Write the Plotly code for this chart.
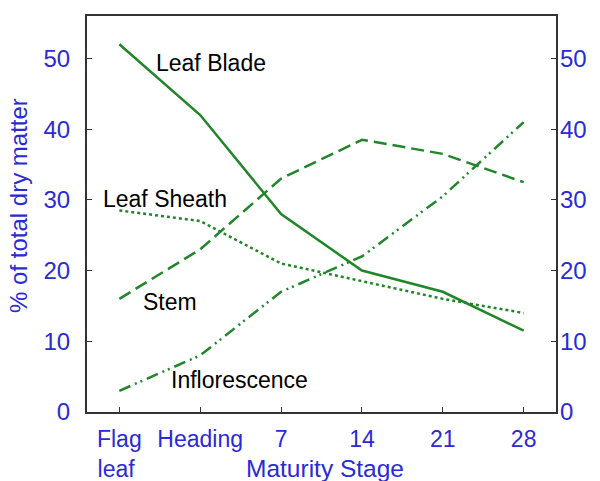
import plotly.graph_objects as go

stages = ["Flag<br>leaf\u00a0", "Heading", "7", "14", "21", "28"]
leaf_blade = [52, 42, 28, 20, 17, 11.5]
leaf_sheath = [28.5, 27, 21, 18.5, 16, 14]
stem = [16, 23, 33, 38.5, 36.5, 32.5]
inflorescence = [3, 8, 17, 22, 30.5, 41]
y_ticks = [0, 10, 20, 30, 40, 50]

GREEN = "#21852a"
BLUE = "#2a2ad6"
FONT = "Liberation Sans, Arial, sans-serif"

x = list(range(len(stages)))

fig = go.Figure()
series = [
    ("Leaf Blade", leaf_blade, "solid"),
    ("Leaf Sheath", leaf_sheath, "dot"),
    ("Stem", stem, "13px,6px"),
    ("Inflorescence", inflorescence, "12px,5px,2px,4px,2px,5px"),
]
for name, vals, dash in series:
    fig.add_trace(go.Scatter(x=x, y=vals, mode="lines", name=name,
                             line=dict(color=GREEN, width=2.5, dash=dash)))
# invisible trace for right axis
fig.add_trace(go.Scatter(x=[x[0]], y=[0], yaxis="y2", mode="markers",
                         marker=dict(opacity=0), showlegend=False, hoverinfo="skip"))

labels = [("Leaf Blade", 1.13, 49.4), ("Leaf Sheath", 0.56, 30.1),
          ("Stem", 0.63, 15.5), ("Inflorescence", 1.49, 4.5)]
for txt, lx, ly in labels:
    fig.add_annotation(x=lx, y=ly, text=txt, showarrow=False,
                       font=dict(size=23, color="black", family=FONT))

# axis titles as annotations for exact placement
fig.add_annotation(xref="paper", yref="paper", x=0.507, y=-0.143, yanchor="middle",
                   text="Maturity Stage", showarrow=False,
                   font=dict(size=24.5, color=BLUE, family=FONT))
fig.add_annotation(xref="paper", yref="paper", x=-0.145, y=0.523, xanchor="center",
                   yanchor="middle", textangle=-90, text="% of total dry matter",
                   showarrow=False, font=dict(size=24, color=BLUE, family=FONT))

fig.update_layout(
    width=600, height=481,
    margin=dict(l=87, r=44, t=16, b=69, autoexpand=False),
    paper_bgcolor="white", plot_bgcolor="white",
    showlegend=False,
    font=dict(family=FONT, size=23, color=BLUE),
    xaxis=dict(range=[-0.4, 5.4], tickvals=x, ticktext=stages, automargin=False,
               ticks="inside", ticklen=5, tickcolor="#333", tickwidth=1,
               showline=True, linecolor="#333", linewidth=2, mirror=True,
               showgrid=False, zeroline=False, ticklabelstandoff=5,
               tickfont=dict(size=23, color=BLUE)),
    yaxis=dict(range=[0, 56], tickvals=y_ticks, automargin=False,
               ticks="inside", ticklen=5, tickcolor="#333", tickwidth=1,
               showline=True, linecolor="#333", linewidth=2, mirror=True,
               showgrid=False, zeroline=False, ticklabelstandoff=10,
               tickfont=dict(size=24, color=BLUE)),
    yaxis2=dict(range=[0, 56], tickvals=y_ticks, overlaying="y", side="right",
                automargin=False,
                ticks="inside", ticklen=5, tickcolor="#333", tickwidth=1,
                showline=False, showgrid=False, zeroline=False, ticklabelstandoff=3,
                tickfont=dict(size=24, color=BLUE)),
)

fig.write_html(
    "out.html",
    config={"responsive": False, "displayModeBar": False},
    post_script=("document.body.style.margin='0';"
                 "document.body.style.overflow='hidden';"
                 "Plotly.relayout('{plot_id}', {width:600, height:481});"),
)
